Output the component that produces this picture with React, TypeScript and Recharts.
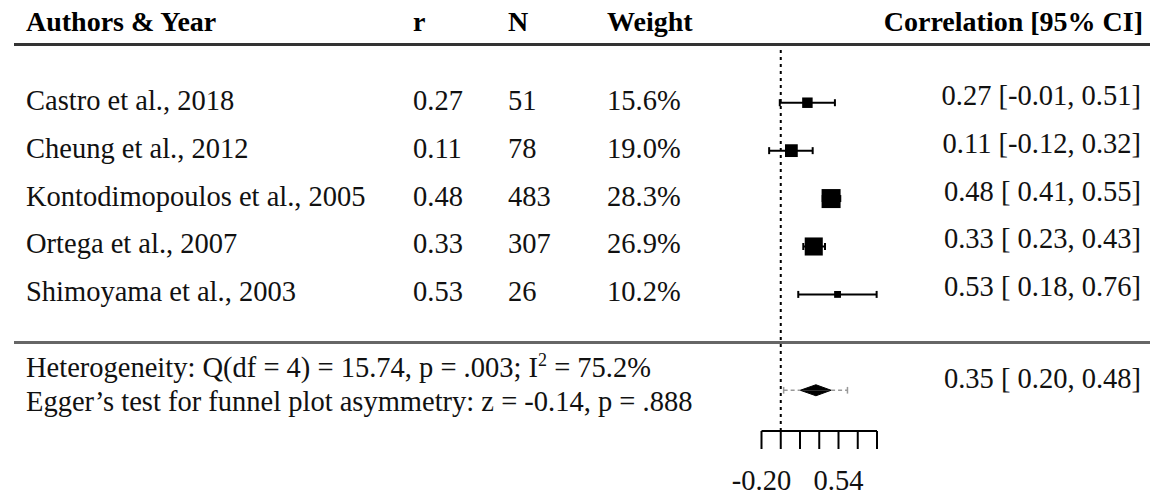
import { ComposedChart, XAxis, YAxis, Scatter, ErrorBar, Area, ReferenceLine } from "recharts";

const FONT = '"Liberation Serif", "Times New Roman", serif';

// study rows
const AUTHORS = [
  "Castro et al., 2018",
  "Cheung et al., 2012",
  "Kontodimopoulos et al., 2005",
  "Ortega et al., 2007",
  "Shimoyama et al., 2003",
];
const R_VALUES = [0.27, 0.11, 0.48, 0.33, 0.53];
const SAMPLE_N = [51, 78, 483, 307, 26];
const WEIGHTS = [15.6, 19.0, 28.3, 26.9, 10.2];
const CI_LOW = [-0.01, -0.12, 0.41, 0.23, 0.18];
const CI_HIGH = [0.51, 0.32, 0.55, 0.43, 0.76];

// pooled estimate [r, lower, upper] and prediction interval
const POOLED = [0.35, 0.2, 0.48];
const PRED_INTERVAL = [0.03, 0.6];

const HET_TEXT = "Heterogeneity: Q(df = 4) = 15.74, p = .003; I";
const HET_I2 = " = 75.2%";
const EGGER_TEXT = "Egger\u2019s test for funnel plot asymmetry: z = -0.14, p = .888";

// axis is on the Fisher z scale, labels back-transformed to r
const AXIS_TICKS = [-0.2, 0, 0.2, 0.4, 0.6, 0.8, 1.0];
const AXIS_LABELS = ["-0.20", "", "", "", "0.54", "", ""];

const SUMMARY_ROW = 6;
const fz = (r: number) => Math.atanh(r);
const fmt = (v: number) => (v < 0 ? v.toFixed(2) : " " + v.toFixed(2));
const ciText = (r: number, lo: number, hi: number) => `${r.toFixed(2)} [${fmt(lo)}, ${hi.toFixed(2)}]`;

const rows = AUTHORS.map((_, i) => {
  const z = fz(R_VALUES[i]);
  return { y: i, z, w: WEIGHTS[i], err: [z - fz(CI_LOW[i]), fz(CI_HIGH[i]) - z] };
});

const pooledZ = fz(POOLED[0]);
const pooledLo = fz(POOLED[1]);
const pooledHi = fz(POOLED[2]);
const piLo = fz(PRED_INTERVAL[0]);
const piHi = fz(PRED_INTERVAL[1]);

// diamond as two triangles, each filled against the summary row
const DIAMOND_H = 0.115;
const diamondTop = [
  { z: pooledLo, v: SUMMARY_ROW },
  { z: pooledZ, v: SUMMARY_ROW - DIAMOND_H },
  { z: pooledHi, v: SUMMARY_ROW },
];
const diamondBottom = diamondTop.map((d) => ({ z: d.z, v: 2 * SUMMARY_ROW - d.v }));

const CAP = 0.07;
const FS = 28.5;
const txt = { fontFamily: FONT, fontSize: FS, fill: "#111" };

function Square(props: any) {
  const { cx, cy, payload } = props;
  const s = (payload.w / 28.3) * 19;
  return <rect x={cx - s / 2} y={cy - s / 2} width={s} height={s} fill="#000" />;
}

function RowTick(props: any) {
  const { y, payload } = props;
  const i = payload.value;
  if (i === SUMMARY_ROW) {
    return (
      <g>
        <text x={26} y={y - 13} {...txt}>
          {HET_TEXT}
          <tspan dy={-11} fontSize={18}>2</tspan>
          <tspan dy={11}>{HET_I2}</tspan>
        </text>
        <text x={26} y={y + 21} {...txt}>{EGGER_TEXT}</text>
        <text x={1141} y={y - 2} textAnchor="end" {...txt}>{ciText(POOLED[0], POOLED[1], POOLED[2])}</text>
      </g>
    );
  }
  return (
    <g>
      <text x={26} y={y + 7} {...txt}>{AUTHORS[i]}</text>
      <text x={413} y={y + 7} {...txt}>{R_VALUES[i].toFixed(2)}</text>
      <text x={508} y={y + 7} {...txt}>{SAMPLE_N[i]}</text>
      <text x={607} y={y + 7} {...txt}>{WEIGHTS[i].toFixed(1)}%</text>
      <text x={1141} y={y + 2} textAnchor="end" {...txt}>{ciText(R_VALUES[i], CI_LOW[i], CI_HIGH[i])}</text>
    </g>
  );
}

const headStyle: React.CSSProperties = {
  position: "absolute", top: 7.5, fontFamily: FONT, fontSize: 28, fontWeight: "bold",
  lineHeight: "28px", color: "#000", whiteSpace: "nowrap",
};

const triangleProps = {
  dataKey: "v",
  type: "linear" as const,
  baseValue: SUMMARY_ROW,
  fill: "#000",
  fillOpacity: 1,
  stroke: "#000",
  strokeWidth: 1,
  dot: false,
  activeDot: false,
  isAnimationActive: false,
};

const piStyle = { stroke: "#999", strokeWidth: 1.5, ifOverflow: "visible" as const };

export default function App() {
  return (
    <div style={{ position: "absolute", left: 0, top: 0, width: 1150, height: 495, background: "#fff" }}>
      <div style={{ ...headStyle, left: 26 }}>Authors &amp; Year</div>
      <div style={{ ...headStyle, left: 413 }}>r</div>
      <div style={{ ...headStyle, left: 508 }}>N</div>
      <div style={{ ...headStyle, left: 607 }}>Weight</div>
      <div style={{ ...headStyle, right: 7, textAlign: "right" }}>Correlation [95% CI]</div>
      <div style={{ position: "absolute", left: 14, top: 43, width: 1136, height: 3, background: "#333" }} />
      <div style={{ position: "absolute", left: 14, top: 341, width: 1136, height: 3, background: "#666" }} />
      <div style={{ position: "absolute", left: 0, top: 0 }}>
        <ComposedChart width={1150} height={495} margin={{ top: 50, right: 273, bottom: 0, left: 0 }}>
          <XAxis
            type="number"
            dataKey="z"
            domain={[-0.2, 1.0]}
            allowDataOverflow
            ticks={AXIS_TICKS}
            interval={0}
            tickFormatter={(v: number) => AXIS_LABELS[AXIS_TICKS.indexOf(v)] ?? ""}
            height={64}
            tickSize={18}
            tickMargin={21}
            stroke="#000"
            strokeWidth={2}
            tick={{ fontFamily: FONT, fontSize: FS, fill: "#111" }}
          />
          <YAxis
            type="number"
            dataKey="y"
            domain={[-1.1, 6.85]}
            allowDataOverflow
            reversed
            ticks={[0, 1, 2, 3, 4, SUMMARY_ROW]}
            interval={0}
            width={761.5}
            axisLine={false}
            tickLine={false}
            tick={(p: any) => <RowTick {...p} />}
          />
          <ReferenceLine x={0} stroke="#000" strokeWidth={2} strokeDasharray="3 4" />
          {/* prediction interval: dashed arms either side of the diamond, solid end caps */}
          <ReferenceLine segment={[{ x: piLo, y: SUMMARY_ROW }, { x: pooledLo, y: SUMMARY_ROW }]} strokeDasharray="4 3" {...piStyle} />
          <ReferenceLine segment={[{ x: pooledHi, y: SUMMARY_ROW }, { x: piHi, y: SUMMARY_ROW }]} strokeDasharray="4 3" {...piStyle} />
          <ReferenceLine segment={[{ x: piLo, y: SUMMARY_ROW - CAP }, { x: piLo, y: SUMMARY_ROW + CAP }]} {...piStyle} />
          <ReferenceLine segment={[{ x: piHi, y: SUMMARY_ROW - CAP }, { x: piHi, y: SUMMARY_ROW + CAP }]} {...piStyle} />
          <Scatter data={rows} shape={Square} isAnimationActive={false}>
            <ErrorBar dataKey="err" direction="x" width={3.5} stroke="#000" strokeWidth={2} />
          </Scatter>
          <Area data={diamondTop} {...triangleProps} />
          <Area data={diamondBottom} {...triangleProps} />
        </ComposedChart>
      </div>
    </div>
  );
}
